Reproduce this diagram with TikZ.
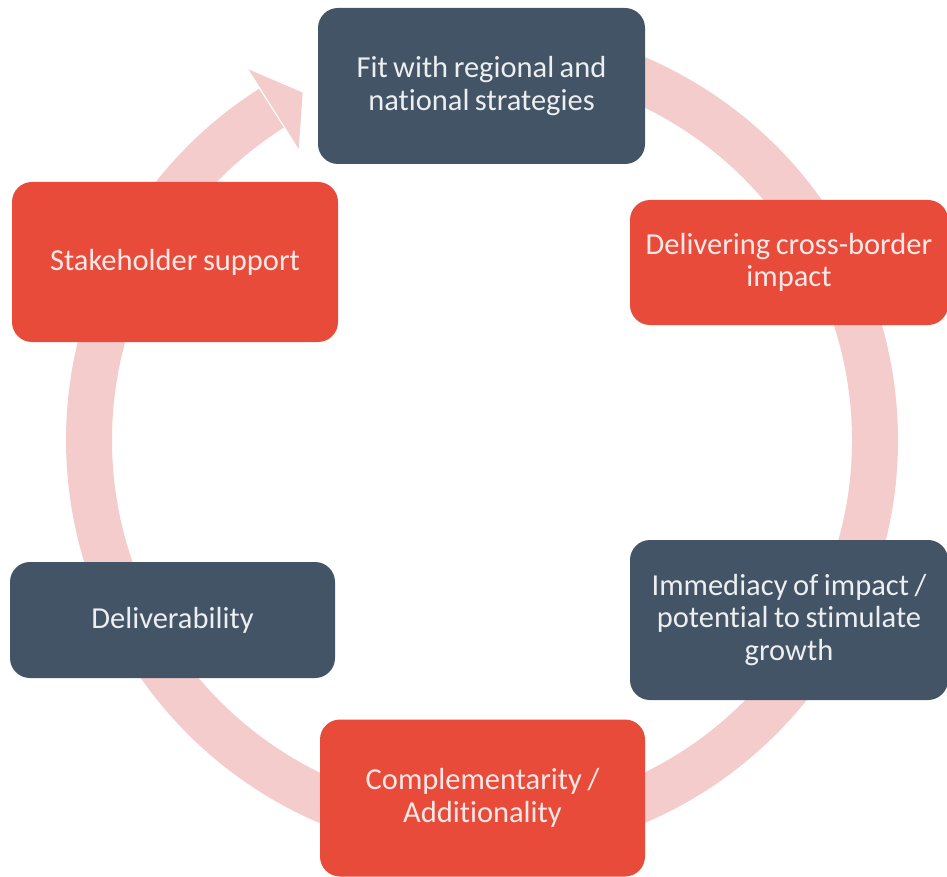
\documentclass[tikz,border=0pt]{standalone}
\usepackage{fontspec}
\setmainfont[Ligatures=NoCommon, WordSpace=0.8]{Carlito}
\definecolor{slate}{HTML}{425465}
\definecolor{boxred}{HTML}{E84B3A}
\definecolor{ringpink}{HTML}{F5CCCC}
\begin{document}
\begin{tikzpicture}[x=1pt,y=1pt,
  stagebox/.style={rounded corners=20pt, align=center, inner sep=0pt,
    font=\fontsize{30.5}{32.5}\selectfont},
  darkbox/.style={stagebox, fill=slate, text=white!90!slate},
  redbox/.style={stagebox, fill=boxred, text=white!88!boxred},
  ring/.style={ringpink, line width=46pt}]
\useasboundingbox (0,0) rectangle (947,-877);
\coordinate (c) at (482,-440);
% ring with arrowhead
\draw[ring] ([shift={(95:393)}]c) arc[start angle=95, end angle=-237.6, radius=393];
\fill[ringpink] ([shift={(117.3:391)}]c) -- ([shift={(122.2:438)}]c) -- ([shift={(122.2:344)}]c) -- cycle;
% boxes
\node[darkbox, minimum width=327pt, minimum height=156pt] (fit) at (481.5,-86)
  {Fit with regional and\\national strategies};
\node[redbox, minimum width=326pt, minimum height=160pt] (stake) at (175,-262)
  {Stakeholder support};
\node[redbox, minimum width=318pt, minimum height=125pt] (deliv) at (789,-262.5)
  {Delivering cross-border\\impact};
\node[darkbox, minimum width=318pt, minimum height=160pt] (immed) at (789,-620)
  {Immediacy of impact /\\potential to stimulate\\growth};
\node[darkbox, minimum width=325pt, minimum height=116pt] (deliverab) at (172.5,-620)
  {Deliverability};
\node[redbox, minimum width=325pt, minimum height=157pt] (compl) at (482.5,-798)
  {Complementarity /\\Additionality};
\end{tikzpicture}
\end{document}
